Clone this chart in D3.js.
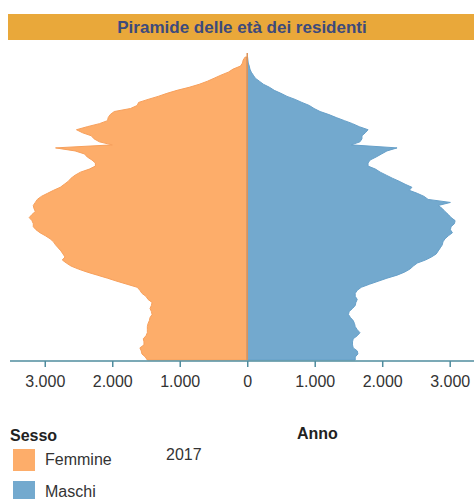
<!DOCTYPE html>
<html>
<head>
<meta charset="utf-8">
<script src="https://cdn.jsdelivr.net/npm/d3@7"></script>
<style>
  body { margin: 0; background: #fff; }
  svg { display: block; font-family: "Liberation Sans", Arial, sans-serif; }
</style>
</head>
<body>
<svg id="chart" width="474" height="499"></svg>
<script>
// eta' 0..100, residenti per sesso (2017)
var ages = d3.range(0, 101);
var femmine = [
  1480, 1510, 1560, 1570, 1590, 1530, 1530, 1540, 1500, 1480,
  1480, 1480, 1470, 1450, 1440, 1410, 1420, 1440, 1420, 1410,
  1470, 1500, 1560, 1590, 1630, 1780, 1930, 2070, 2220, 2370,
  2500, 2610, 2680, 2740, 2700, 2730, 2760, 2800, 2840, 2870,
  2920, 2990, 3070, 3130, 3170, 3170, 3190, 3230, 3190, 3140,
  3160, 3170, 3140, 3110, 3050, 2960, 2870, 2770, 2710, 2650,
  2610, 2550, 2470, 2340, 2250, 2250, 2300, 2370, 2410, 2550,
  2840, 2000, 2190, 2270, 2310, 2440, 2530, 2370, 2190, 2070,
  2060, 2030, 1970, 1730, 1630, 1610, 1470, 1320, 1190, 1040,
  860, 710, 590, 490, 390, 280, 210, 100, 70, 60,
  30
];
var maschi = [
  1600, 1600, 1640, 1630, 1570, 1560, 1560, 1570, 1630, 1670,
  1630, 1600, 1590, 1570, 1530, 1500, 1510, 1560, 1600, 1610,
  1630, 1600, 1600, 1630, 1690, 1810, 1940, 2070, 2220, 2330,
  2410, 2460, 2520, 2640, 2730, 2800, 2830, 2860, 2890, 2900,
  2930, 2980, 3040, 3010, 3020, 3070, 3080, 3020, 2980, 2930,
  2890, 2830, 3010, 2680, 2620, 2520, 2400, 2440, 2340, 2250,
  2150, 2060, 1970, 1900, 1790, 1790, 1820, 1910, 1990, 2070,
  2220, 1540, 1670, 1700, 1700, 1750, 1790, 1660, 1560, 1440,
  1320, 1210, 1080, 990, 920, 810, 710, 590, 500, 400,
  330, 240, 180, 120, 90, 60, 40, 30, 15, 10,
  5
];
var tickValues = [-3000, -2000, -1000, 0, 1000, 2000, 3000];
var legendLabels = ["Femmine", "Maschi"];
var anno = "2017";

var colF = "#fdad6a", colM = "#73a9ce";

var svg = d3.select("#chart");

var it = d3.formatLocale({ decimal: ",", thousands: ".", grouping: [3], currency: ["€", ""] });
var fmt = it.format(",d");

var x = d3.scaleLinear().domain([-3515, 3360]).range([10, 474]);
var y = d3.scaleLinear().domain([0, 100]).range([360, 57]);

// titolo
svg.append("rect")
  .attr("x", 8).attr("y", 14).attr("width", 466).attr("height", 26)
  .attr("fill", "#e9a83a");
svg.append("text")
  .attr("x", 242).attr("y", 33)
  .attr("text-anchor", "middle")
  .attr("font-size", 17).attr("font-weight", "bold")
  .attr("fill", "#3c4a7c")
  .text("Piramide delle età dei residenti");

var areaF = d3.area()
  .y(function(d, i) { return y(ages[i]); })
  .x0(x(0))
  .x1(function(d) { return x(-d); });

var areaM = d3.area()
  .y(function(d, i) { return y(ages[i]); })
  .x0(x(0))
  .x1(function(d) { return x(d); });

svg.append("path")
  .datum(femmine)
  .attr("d", areaF)
  .attr("fill", colF)
  .attr("stroke", "#f7a05c")
  .attr("stroke-width", 1);

svg.append("path")
  .datum(maschi)
  .attr("d", areaM)
  .attr("fill", colM)
  .attr("stroke", "#67a0c9")
  .attr("stroke-width", 1);

svg.append("line")
  .attr("x1", x(0)).attr("x2", x(0))
  .attr("y1", y(100) - 4).attr("y2", y(0))
  .attr("stroke", "#dc9258").attr("stroke-width", 1.5);

// asse x
var axis = svg.append("g")
  .attr("transform", "translate(0,361)")
  .call(d3.axisBottom(x)
    .tickValues(tickValues)
    .tickSize(6)
    .tickPadding(9)
    .tickFormat(function(d) { return fmt(Math.abs(d)); }));

axis.select(".domain").attr("stroke", "#4f8c9e").attr("stroke-width", 1.5)
  .attr("d", "M10,0H474");
axis.selectAll(".tick line").attr("stroke", "#4f8c9e").attr("stroke-width", 1.5);
axis.selectAll(".tick text")
  .attr("font-size", 16)
  .attr("font-family", "Liberation Sans, Arial, sans-serif")
  .attr("fill", "#333");

// legenda
svg.append("text").attr("x", 10).attr("y", 441)
  .attr("font-size", 16).attr("font-weight", "bold").attr("fill", "#222")
  .text("Sesso");

var leg = svg.selectAll(".leg")
  .data(legendLabels)
  .enter().append("g")
  .attr("class", "leg")
  .attr("transform", function(d, i) { return "translate(13," + (449 + i * 32) + ")"; });

leg.append("rect")
  .attr("width", 22).attr("height", 22)
  .attr("fill", function(d, i) { return i === 0 ? colF : colM; });

leg.append("text")
  .attr("x", 32).attr("y", 16)
  .attr("font-size", 16).attr("fill", "#333")
  .text(function(d) { return d; });

svg.append("text").attr("x", 166).attr("y", 460)
  .attr("font-size", 16).attr("fill", "#333")
  .text(anno);

svg.append("text").attr("x", 297).attr("y", 439)
  .attr("font-size", 16).attr("font-weight", "bold").attr("fill", "#222")
  .text("Anno");
</script>
</body>
</html>
